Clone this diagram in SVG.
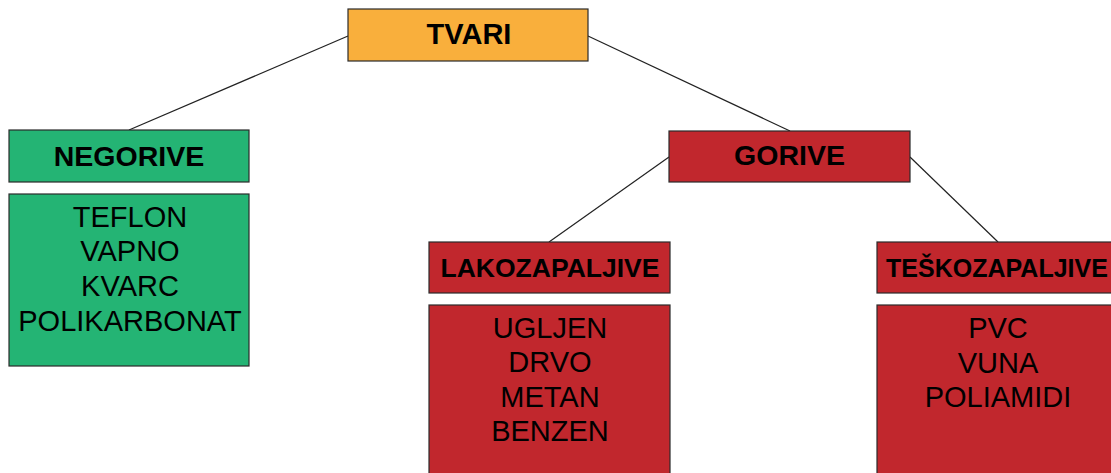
<svg xmlns="http://www.w3.org/2000/svg" width="1111" height="473" viewBox="0 0 1111 473">
<style>
.box{stroke:#2b2b2b;stroke-width:1.2}
.or{fill:#F9AF3C}.gr{fill:#24B474}.rd{fill:#C1272D}
.h{font-family:"Liberation Sans",Arial,sans-serif;font-weight:bold;font-size:28.5px;fill:#000;text-anchor:middle}
.t{font-family:"Liberation Sans",Arial,sans-serif;font-size:29px;fill:#000;text-anchor:middle}
.c{stroke:#222;stroke-width:1.2;fill:none}
</style>
<rect width="1111" height="473" fill="#fff"/>
<g id="connectors">
<line class="c" x1="348" y1="36" x2="129" y2="130"/>
<line class="c" x1="588" y1="36" x2="790" y2="131"/>
<line class="c" x1="669" y1="157" x2="549" y2="242"/>
<line class="c" x1="910" y1="157" x2="998" y2="242"/>
</g>
<g id="tvari"><rect class="box or" x="348" y="9" width="240" height="52"/><text class="h" x="469" y="44" style="font-size:29px">TVARI</text></g>
<g id="negorive"><rect class="box gr" x="9" y="130" width="240" height="52"/><text class="h" x="129" y="166">NEGORIVE</text></g>
<g id="negorive-list"><rect class="box gr" x="9" y="194" width="240" height="172"/>
<text class="t" x="130" y="227">TEFLON</text><text class="t" x="130" y="261">VAPNO</text><text class="t" x="130" y="296">KVARC</text><text class="t" x="130" y="331">POLIKARBONAT</text></g>
<g id="gorive"><rect class="box rd" x="669" y="131" width="241" height="51"/><text class="h" x="789.5" y="165">GORIVE</text></g>
<g id="lakozapaljive"><rect class="box rd" x="429" y="242" width="241" height="51"/><text class="h" x="550" y="277" style="font-size:26.5px">LAKOZAPALJIVE</text></g>
<g id="lakozapaljive-list"><rect class="box rd" x="429" y="305" width="241" height="180"/>
<text class="t" x="550" y="338">UGLJEN</text><text class="t" x="550" y="372">DRVO</text><text class="t" x="550" y="407">METAN</text><text class="t" x="550" y="441">BENZEN</text></g>
<g id="teskozapaljive"><rect class="box rd" x="877" y="242" width="241" height="51"/><text class="h" x="997" y="277" style="font-size:25px">TEŠKOZAPALJIVE</text></g>
<g id="teskozapaljive-list"><rect class="box rd" x="877" y="305" width="241" height="180"/>
<text class="t" x="998" y="338">PVC</text><text class="t" x="998" y="373">VUNA</text><text class="t" x="998" y="407">POLIAMIDI</text></g>
</svg>
